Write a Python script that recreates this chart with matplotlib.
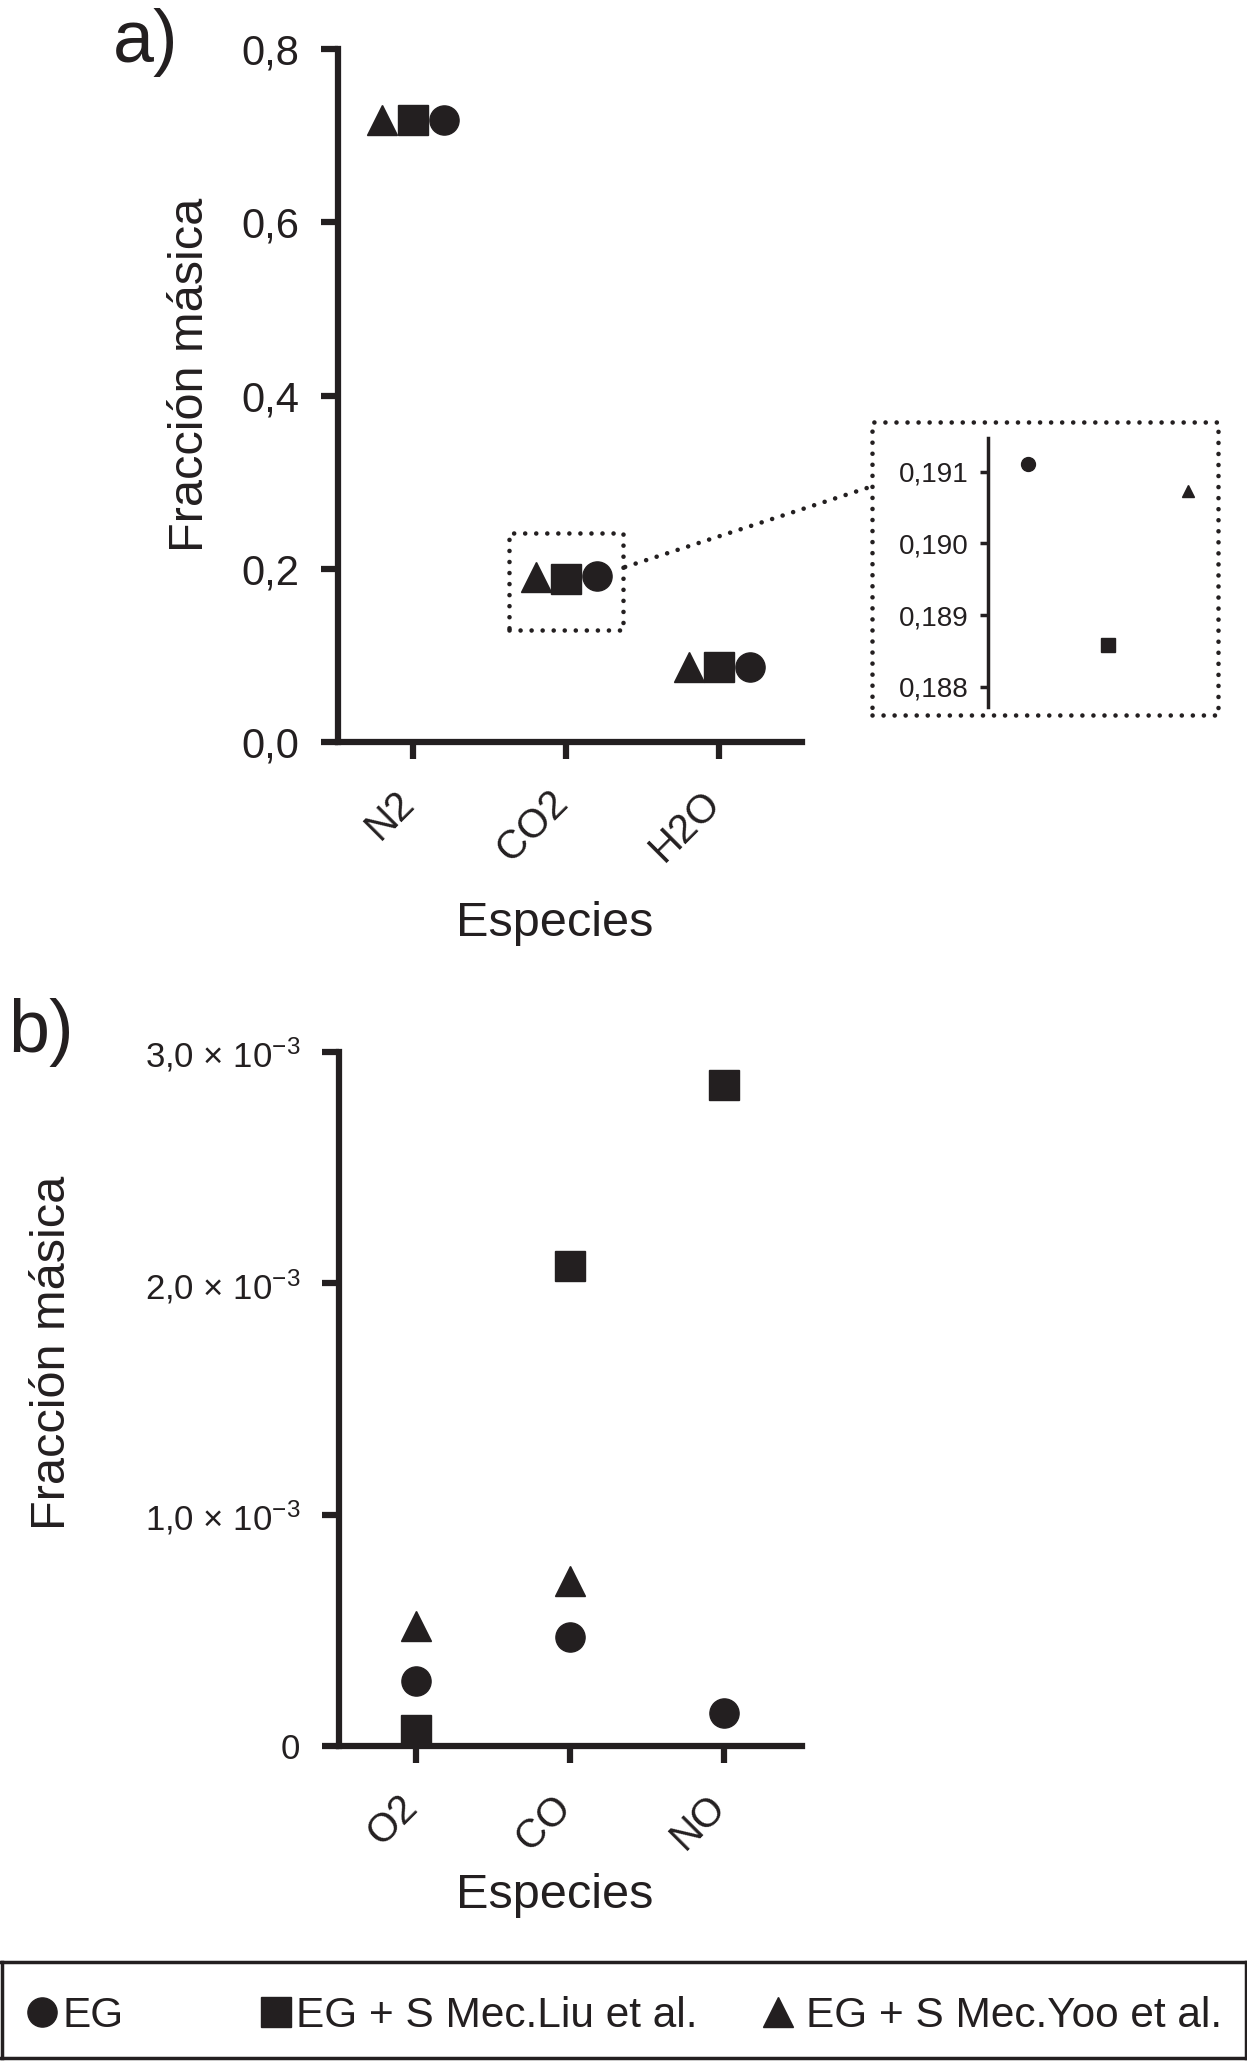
import matplotlib
matplotlib.use("Agg")
import matplotlib.pyplot as plt
import matplotlib.transforms as mtransforms
from matplotlib.patches import Rectangle, ConnectionPatch
import numpy as np

plt.rcParams['font.family'] = ['Liberation Sans', 'DejaVu Sans']
plt.rcParams['mathtext.fontset'] = 'custom'
plt.rcParams['mathtext.rm'] = 'Liberation Sans'
plt.rcParams['mathtext.it'] = 'Liberation Sans:italic'
plt.rcParams['mathtext.default'] = 'regular'

INK = '#231f20'
W, H = 1247, 2061

# --- datos panel a ---
especies_a = ['N2', 'CO2', 'H2O']
eg_a = [0.718, 0.19111, 0.0865]
liu_a = [0.718, 0.18858, 0.0865]
yoo_a = [0.718, 0.19073, 0.0865]
yticks_a = [0.0, 0.2, 0.4, 0.6, 0.8]
ylabels_a = ['0,0', '0,2', '0,4', '0,6', '0,8']

# zoom de CO2
inset_ticks = [0.188, 0.189, 0.190, 0.191]
inset_labels = ['0,188', '0,189', '0,190', '0,191']

# --- datos panel b ---
especies_b = ['O2', 'CO', 'NO']
eg_b = [0.283e-3, 0.47e-3, 0.143e-3]
liu_b = [0.07e-3, 2.074e-3, 2.857e-3]
yoo_b = [0.52e-3, 0.713e-3, np.nan]
yticks_b = [0.0, 1e-3, 2e-3, 3e-3]
ylabels_b = ['0', '1,0 × 10$^{-3}$', '2,0 × 10$^{-3}$', '3,0 × 10$^{-3}$']

series = ['EG', 'EG + S Mec.Liu et al.', 'EG + S Mec.Yoo et al.']
markers = ['o', 's', '^']


def fx(px):
    return px / W


def fy(py):
    return 1 - py / H


def style_axes(ax, lw, ticklen, labelsize, pad):
    for s in ['top', 'right']:
        ax.spines[s].set_visible(False)
    for s in ['left', 'bottom']:
        ax.spines[s].set_linewidth(lw)
        ax.spines[s].set_color(INK)
        ax.spines[s].set_capstyle('projecting')
    ax.tick_params(length=ticklen, width=lw, color=INK, labelcolor=INK,
                   labelsize=labelsize, pad=pad, direction='out')


def shift_xlabels(ax, dx_px):
    off = mtransforms.ScaledTranslation(dx_px / 100, 0, fig.dpi_scale_trans)
    for lab in ax.get_xticklabels():
        lab.set_transform(lab.get_transform() + off)


DOTS = (0, (0.01, 2.4))

fig = plt.figure(figsize=(W / 100, H / 100), dpi=100)

# ---------------- panel a ----------------
ax_a = fig.add_axes([fx(338), fy(742), (802 - 338) / W, (742 - 49) / H])
xa = np.arange(len(especies_a))
offs = [0.2, 0.0, -0.2]
for vals, m, o in zip([eg_a, liu_a, yoo_a], markers, offs):
    ax_a.plot(xa + o, vals, linestyle='none', marker=m, markersize=21,
              color=INK, clip_on=False, zorder=3)
ax_a.set_xlim(-0.49, 2.54)
ax_a.set_ylim(0, 0.8)
ax_a.set_yticks(yticks_a)
ax_a.set_yticklabels(ylabels_a)
ax_a.set_xticks(xa)
ax_a.set_xticklabels(especies_a, rotation=45, ha='right', va='top')
style_axes(ax_a, 4.5, 12, 30, 16)
ax_a.tick_params(axis='x', labelsize=29, pad=18)
shift_xlabels(ax_a, 9)

# recuadro punteado alrededor de CO2
box = Rectangle((0.625, 0.129), 0.745, 0.112, fill=False, clip_on=False,
                edgecolor=INK, linestyle=DOTS, linewidth=3.3, capstyle='round')
ax_a.add_patch(box)

fig.text(fx(113), fy(62), 'a)', fontsize=53, ha='left', va='baseline', color=INK)
fig.text(fx(203), fy(375), 'Fracción másica', rotation=90, rotation_mode='anchor',
         ha='center', va='baseline', fontsize=35, color=INK)
fig.text(fx(555), fy(936), 'Especies', ha='center', va='baseline', fontsize=35, color=INK)

# ---------------- inset ----------------
ax_in = fig.add_axes([fx(988), fy(707), (1210 - 988) / W, (707 - 438) / H])
sizes = [10, 10, 9]
for i, (vals, m, ms) in enumerate(zip([eg_a, liu_a, yoo_a], markers, sizes)):
    ax_in.plot([i], [vals[1]], linestyle='none', marker=m, markersize=ms, color=INK)
ax_in.set_xlim(-0.5, 2.275)
ax_in.set_ylim(0.18772, 0.19147)
ax_in.set_yticks(inset_ticks)
ax_in.set_yticklabels(inset_labels)
style_axes(ax_in, 2.5, 6, 20, 8)
ax_in.spines['bottom'].set_visible(False)
ax_in.set_xticks([])
ax_in.patch.set_alpha(0)

frame = Rectangle((fx(872), fy(715)), (1218 - 872) / W, (715 - 422) / H,
                  transform=fig.transFigure, fill=False, edgecolor=INK,
                  linestyle=DOTS, linewidth=3.3, capstyle='round')
fig.add_artist(frame)

con = ConnectionPatch(xyA=(1.385, 0.202), coordsA=ax_a.transData,
                      xyB=(fx(870), fy(487)), coordsB=fig.transFigure,
                      color=INK, linestyle=DOTS, linewidth=3.3,
                      capstyle='round')
fig.add_artist(con)

# ---------------- panel b ----------------
ax_b = fig.add_axes([fx(339), fy(1746), (802 - 339) / W, (1746 - 1052) / H])
xb = np.arange(len(especies_b))
for vals, m in zip([eg_b, liu_b, yoo_b], markers):
    ax_b.plot(xb, vals, linestyle='none', marker=m, markersize=21,
              color=INK, clip_on=False, zorder=3)
ax_b.set_xlim(-0.5, 2.51)
ax_b.set_ylim(0, 3e-3)
ax_b.set_yticks(yticks_b)
ax_b.set_yticklabels(ylabels_b)
ax_b.set_xticks(xb)
ax_b.set_xticklabels(especies_b, rotation=45, ha='right', va='top')
style_axes(ax_b, 4.5, 12, 25, 16)
ax_b.tick_params(axis='x', labelsize=29, pad=18)
shift_xlabels(ax_b, 9)

fig.text(fx(8), fy(1052), 'b)', fontsize=53, ha='left', va='baseline', color=INK)
fig.text(fx(65), fy(1353), 'Fracción másica', rotation=90, rotation_mode='anchor',
         ha='center', va='baseline', fontsize=35, color=INK)
fig.text(fx(555), fy(1908), 'Especies', ha='center', va='baseline', fontsize=35, color=INK)

# ---------------- leyenda ----------------
ax_l = fig.add_axes([fx(1.5), fy(2058), (1245.5 - 1.5) / W, (2058 - 1962) / H])
ax_l.set_xlim(1.5, 1245.5)
ax_l.set_ylim(2058, 1962)
ax_l.set_xticks([])
ax_l.set_yticks([])
for s in ax_l.spines.values():
    s.set_linewidth(2.5)
    s.set_color(INK)
mark_x = [42, 276, 778]
text_x = [63, 296, 806]
for lab, m, mx, tx in zip(series, markers, mark_x, text_x):
    ax_l.plot([mx], [2012], linestyle='none', marker=m, markersize=21, color=INK)
    ax_l.text(tx, 2027, lab, fontsize=30.5, ha='left', va='baseline', color=INK)

fig.savefig('out.png', dpi=100)
